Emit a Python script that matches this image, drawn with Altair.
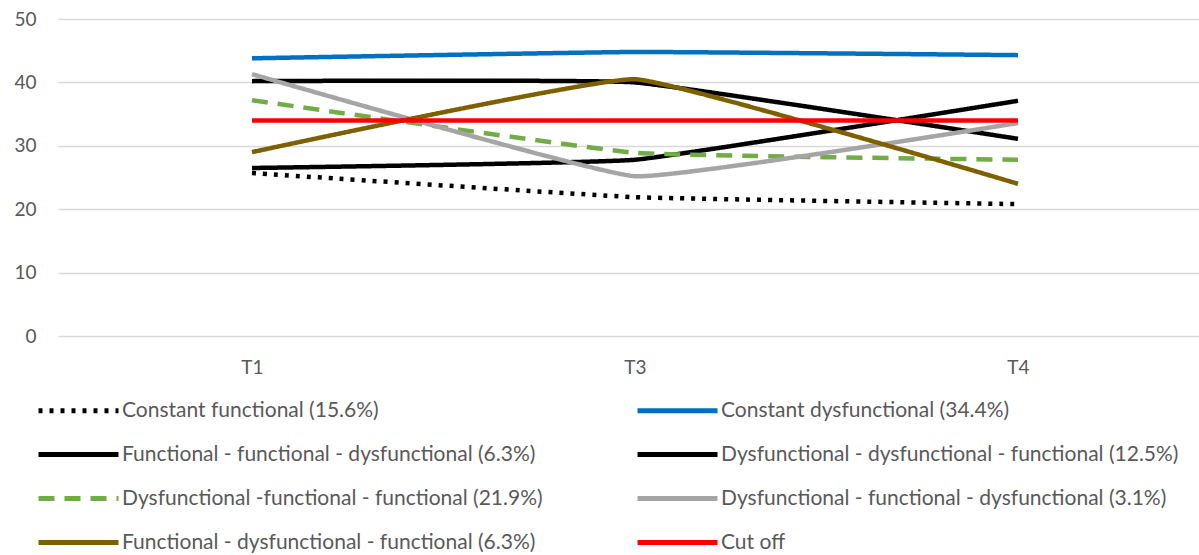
import altair as alt
import pandas as pd

# Time points and trajectory groups
times = ["T1", "T3", "T4"]
series = [
    "Constant functional (15.6%)",
    "Constant dysfunctional (34.4%)",
    "Functional - functional - dysfunctional (6.3%)",
    "Dysfunctional - dysfunctional - functional (12.5%)",
    "Dysfunctional -functional - functional (21.9%)",
    "Dysfunctional - functional - dysfunctional (3.1%)",
    "Functional - dysfunctional - functional (6.3%)",
    "Cut off",
]
values = [
    [25.7, 21.9, 20.8],
    [43.8, 44.8, 44.3],
    [40.2, 40.0, 31.1],
    [26.5, 27.8, 37.1],
    [37.2, 28.9, 27.8],
    [41.3, 25.2, 33.6],
    [29.0, 40.5, 24.0],
    [34.0, 34.0, 34.0],
]
colors = ["#000000", "#0070C0", "#000000", "#000000",
          "#70AD47", "#A5A5A5", "#7F6000", "#FF0000"]
dashes = [[4, 7], [1, 0], [1, 0], [1, 0],
          [16, 10], [1, 0], [1, 0], [1, 0]]

rows = []
for i, (name, vals) in enumerate(zip(series, values)):
    for k, v in enumerate(vals):
        rows.append({"series": name, "step": k, "time": times[k], "value": v, "order": i})
df = pd.DataFrame(rows)

font = "Lato"
text_color = "#595959"

# long horizontal stroke used as the legend key
key_path = "M-4,0H4"

legend = alt.Legend(
    title=None,
    orient="none",
    legendX=8,
    legendY=379,
    direction="horizontal",
    columns=2,
    columnPadding=84,
    rowPadding=21,
    symbolType=key_path,
    symbolSize=400,
    symbolStrokeWidth=5,
    labelFont=font,
    labelFontSize=21,
    labelColor=text_color,
    labelOffset=31,
    labelLimit=700,
    padding=0,
)

time_labels = "[" + ",".join(f"'{t}'" for t in times) + "][datum.value]"

chart = (
    alt.Chart(df)
    .mark_line(strokeWidth=4.5, interpolate="cardinal", tension=0.7)
    .encode(
        x=alt.X(
            "step:Q",
            scale=alt.Scale(domain=[-0.5065, 2.4726], nice=False, zero=False),
            axis=alt.Axis(
                title=None, values=[0, 1, 2], labelExpr=time_labels,
                labelAngle=0, domain=False, ticks=False, grid=False,
                labelFont=font, labelFontSize=19, labelColor=text_color,
                labelPadding=22,
            ),
        ),
        y=alt.Y(
            "value:Q",
            scale=alt.Scale(domain=[0, 50], nice=False),
            axis=alt.Axis(
                title=None, values=[0, 10, 20, 30, 40, 50], domain=False,
                domainColor="white", ticks=False, gridColor="#D9D9D9", gridWidth=1.5,
                labelFont=font, labelFontSize=19, labelColor=text_color,
                labelPadding=22,
            ),
        ),
        color=alt.Color("series:N", scale=alt.Scale(domain=series, range=colors),
                        sort=series, legend=legend),
        strokeDash=alt.StrokeDash("series:N", scale=alt.Scale(domain=series, range=dashes),
                                  sort=series, legend=legend),
        detail="series:N",
        order="step:Q",
    )
    .properties(
        width=1141,
        height=317,
        background="white",
        view=alt.ViewBackground(stroke="white", strokeOpacity=0, strokeWidth=0),
        autosize=alt.AutoSizeParams(type="none"),
        padding={"left": 58, "top": 19, "right": 0, "bottom": 219},
    )
    .configure_view(stroke="white", strokeOpacity=0, strokeWidth=0)
    .configure_axis(domain=False, domainColor="white")
)

chart.save("out.html", embed_options={"renderer": "svg", "actions": False})
